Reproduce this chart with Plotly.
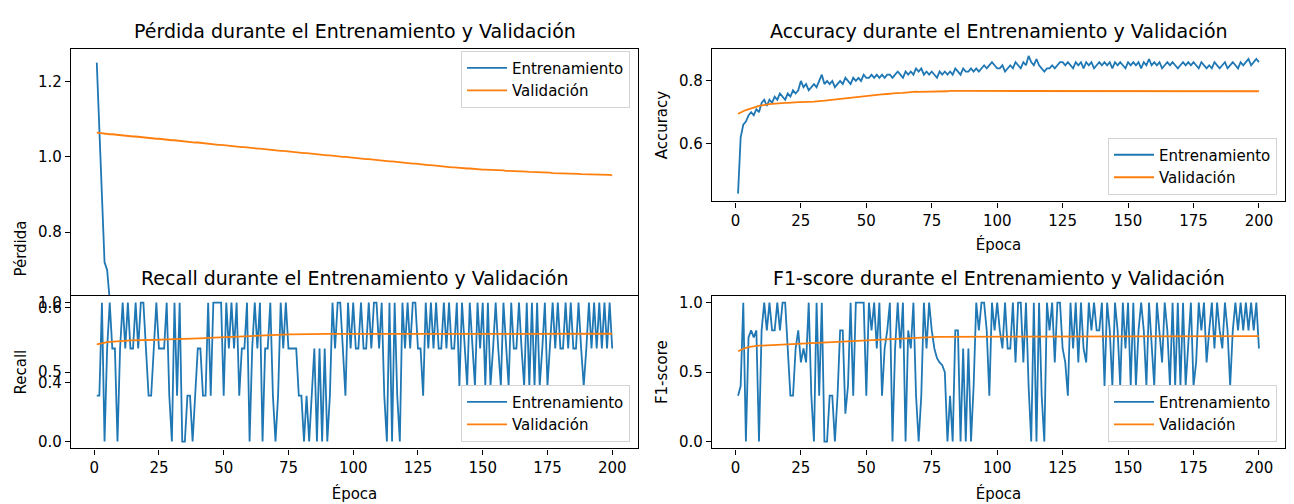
import plotly.graph_objects as go

# ---------------- data ----------------
epochs = list(range(1, 201))

loss_train = [
    1.25, 1.07, 0.90, 0.72, 0.70, 0.62, 0.58, 0.55, 0.53, 0.51,
    0.50, 0.49, 0.48, 0.47, 0.47, 0.46, 0.45, 0.45, 0.44, 0.44,
    0.43, 0.43, 0.42, 0.42, 0.41, 0.41, 0.41, 0.40, 0.40, 0.40,
    0.39, 0.39, 0.39, 0.38, 0.38, 0.38, 0.38, 0.37, 0.37, 0.37,
    0.37, 0.36, 0.36, 0.36, 0.36, 0.36, 0.35, 0.35, 0.35, 0.35,
    0.35, 0.35, 0.34, 0.34, 0.34, 0.34, 0.34, 0.34, 0.33, 0.33,
    0.33, 0.33, 0.33, 0.33, 0.33, 0.33, 0.32, 0.32, 0.32, 0.32,
    0.32, 0.32, 0.32, 0.32, 0.32, 0.31, 0.31, 0.31, 0.31, 0.31,
    0.31, 0.31, 0.31, 0.31, 0.31, 0.31, 0.30, 0.30, 0.30, 0.30,
    0.30, 0.30, 0.30, 0.30, 0.30, 0.30, 0.30, 0.30, 0.30, 0.29,
    0.29, 0.29, 0.29, 0.29, 0.29, 0.29, 0.29, 0.29, 0.29, 0.29,
    0.29, 0.29, 0.29, 0.29, 0.29, 0.29, 0.29, 0.29, 0.29, 0.29,
    0.29, 0.29, 0.29, 0.29, 0.29, 0.28, 0.28, 0.28, 0.28, 0.28,
    0.28, 0.28, 0.28, 0.28, 0.28, 0.28, 0.28, 0.28, 0.28, 0.28,
    0.28, 0.28, 0.28, 0.28, 0.28, 0.28, 0.28, 0.28, 0.28, 0.28,
    0.28, 0.28, 0.28, 0.28, 0.28, 0.28, 0.28, 0.28, 0.28, 0.28,
    0.28, 0.28, 0.28, 0.28, 0.28, 0.28, 0.28, 0.28, 0.28, 0.28,
    0.28, 0.28, 0.28, 0.28, 0.28, 0.28, 0.28, 0.28, 0.28, 0.28,
    0.28, 0.28, 0.28, 0.28, 0.28, 0.28, 0.28, 0.28, 0.28, 0.28,
    0.28, 0.28, 0.28, 0.28, 0.28, 0.28, 0.28, 0.28, 0.28, 0.28,
]

loss_val = [
    1.064, 1.063, 1.062, 1.062, 1.061, 1.060, 1.060, 1.059, 1.058, 1.058,
    1.057, 1.056, 1.056, 1.055, 1.054, 1.054, 1.053, 1.052, 1.052, 1.051,
    1.050, 1.050, 1.049, 1.048, 1.048, 1.047, 1.046, 1.046, 1.045, 1.044,
    1.044, 1.043, 1.042, 1.042, 1.041, 1.040, 1.040, 1.039, 1.038, 1.038,
    1.037, 1.036, 1.036, 1.035, 1.034, 1.034, 1.033, 1.032, 1.032, 1.031,
    1.030, 1.030, 1.029, 1.028, 1.028, 1.027, 1.026, 1.026, 1.025, 1.024,
    1.024, 1.023, 1.022, 1.022, 1.021, 1.020, 1.020, 1.019, 1.018, 1.018,
    1.017, 1.016, 1.016, 1.015, 1.014, 1.014, 1.013, 1.012, 1.012, 1.011,
    1.010, 1.010, 1.009, 1.008, 1.008, 1.007, 1.006, 1.006, 1.005, 1.004,
    1.004, 1.003, 1.002, 1.002, 1.001, 1.000, 1.000, 0.999, 0.998, 0.998,
    0.997, 0.996, 0.996, 0.995, 0.994, 0.994, 0.993, 0.992, 0.992, 0.991,
    0.990, 0.990, 0.989, 0.988, 0.988, 0.987, 0.986, 0.986, 0.985, 0.984,
    0.984, 0.983, 0.982, 0.982, 0.981, 0.980, 0.980, 0.979, 0.978, 0.978,
    0.977, 0.976, 0.976, 0.975, 0.974, 0.974, 0.973, 0.972, 0.972, 0.971,
    0.971, 0.970, 0.970, 0.969, 0.969, 0.968, 0.968, 0.967, 0.967, 0.966,
    0.966, 0.966, 0.965, 0.965, 0.965, 0.964, 0.964, 0.964, 0.963, 0.963,
    0.963, 0.962, 0.962, 0.962, 0.961, 0.961, 0.961, 0.960, 0.960, 0.960,
    0.959, 0.959, 0.959, 0.958, 0.958, 0.958, 0.957, 0.957, 0.957, 0.956,
    0.956, 0.956, 0.956, 0.955, 0.955, 0.955, 0.955, 0.954, 0.954, 0.954,
    0.954, 0.953, 0.953, 0.953, 0.953, 0.952, 0.952, 0.952, 0.952, 0.951,
]

acc_train = [
    0.44, 0.62, 0.66, 0.67, 0.69, 0.70, 0.69, 0.71, 0.70, 0.73,
    0.74, 0.72, 0.74, 0.73, 0.75, 0.74, 0.76, 0.75, 0.74, 0.76,
    0.75, 0.77, 0.76, 0.77, 0.80, 0.78, 0.79, 0.77, 0.78, 0.79,
    0.78, 0.80, 0.82, 0.79, 0.80, 0.79, 0.80, 0.78, 0.79, 0.80,
    0.79, 0.81, 0.80, 0.79, 0.81, 0.80, 0.81, 0.80, 0.82, 0.81,
    0.81, 0.82, 0.81, 0.82, 0.81, 0.82, 0.81, 0.82, 0.82, 0.81,
    0.82, 0.83, 0.82, 0.81, 0.83, 0.82, 0.83, 0.82, 0.84, 0.83,
    0.84, 0.82, 0.83, 0.82, 0.83, 0.82, 0.81, 0.83, 0.82, 0.83,
    0.82, 0.83, 0.82, 0.84, 0.83, 0.82, 0.84, 0.83, 0.83, 0.84,
    0.83, 0.84, 0.83, 0.84, 0.85, 0.84, 0.85, 0.86, 0.85, 0.84,
    0.84, 0.85, 0.83, 0.84, 0.85, 0.84, 0.86, 0.85, 0.84, 0.86,
    0.85, 0.88, 0.86, 0.85, 0.87, 0.85, 0.84, 0.83, 0.84, 0.84,
    0.85, 0.84, 0.85, 0.86, 0.86, 0.85, 0.86, 0.85, 0.84, 0.86,
    0.85, 0.86, 0.84, 0.86, 0.85, 0.86, 0.84, 0.85, 0.86, 0.85,
    0.86, 0.85, 0.86, 0.84, 0.86, 0.85, 0.86, 0.85, 0.84, 0.86,
    0.85, 0.86, 0.85, 0.86, 0.84, 0.86, 0.85, 0.87, 0.85, 0.86,
    0.85, 0.86, 0.84, 0.85, 0.86, 0.85, 0.86, 0.85, 0.84, 0.85,
    0.86, 0.85, 0.86, 0.85, 0.86, 0.85, 0.84, 0.86, 0.85, 0.84,
    0.85, 0.84, 0.86, 0.85, 0.84, 0.85, 0.86, 0.84, 0.85, 0.86,
    0.85, 0.84, 0.86, 0.85, 0.86, 0.87, 0.85, 0.86, 0.87, 0.86,
]

acc_val = [
    0.695, 0.700, 0.703, 0.707, 0.710, 0.713, 0.716, 0.718, 0.720, 0.722,
    0.724, 0.725, 0.726, 0.727, 0.728, 0.729, 0.729, 0.730, 0.730, 0.730,
    0.731, 0.731, 0.731, 0.732, 0.732, 0.732, 0.733, 0.733, 0.734, 0.734,
    0.735, 0.735, 0.736, 0.737, 0.738, 0.739, 0.740, 0.741, 0.741, 0.742,
    0.743, 0.744, 0.745, 0.746, 0.747, 0.748, 0.749, 0.750, 0.751, 0.752,
    0.753, 0.754, 0.754, 0.755, 0.756, 0.757, 0.757, 0.758, 0.759, 0.760,
    0.760, 0.761, 0.762, 0.762, 0.763, 0.764, 0.765, 0.766, 0.766, 0.765,
    0.765, 0.765, 0.766, 0.766, 0.766, 0.767, 0.767, 0.767, 0.767, 0.767,
    0.767, 0.768, 0.767, 0.768, 0.768, 0.767, 0.768, 0.768, 0.768, 0.768,
    0.768, 0.768, 0.768, 0.768, 0.768, 0.768, 0.768, 0.768, 0.768, 0.768,
    0.768, 0.768, 0.768, 0.769, 0.768, 0.768, 0.769, 0.769, 0.768, 0.768,
    0.768, 0.768, 0.768, 0.768, 0.768, 0.768, 0.768, 0.768, 0.768, 0.768,
    0.768, 0.768, 0.768, 0.768, 0.768, 0.768, 0.768, 0.768, 0.768, 0.768,
    0.768, 0.768, 0.768, 0.768, 0.768, 0.768, 0.768, 0.767, 0.767, 0.767,
    0.767, 0.767, 0.767, 0.767, 0.767, 0.767, 0.767, 0.767, 0.767, 0.767,
    0.767, 0.767, 0.767, 0.767, 0.767, 0.767, 0.767, 0.767, 0.767, 0.767,
    0.767, 0.767, 0.767, 0.767, 0.767, 0.767, 0.767, 0.767, 0.767, 0.767,
    0.767, 0.767, 0.767, 0.767, 0.767, 0.767, 0.767, 0.767, 0.767, 0.767,
    0.767, 0.767, 0.767, 0.767, 0.767, 0.767, 0.767, 0.767, 0.767, 0.767,
    0.767, 0.767, 0.767, 0.767, 0.767, 0.767, 0.767, 0.767, 0.767, 0.767,
]

recall_train = [
    0.33, 0.33, 1.00, 0.00, 0.67, 1.00, 0.67, 0.67, 0.00, 0.67,
    1.00, 0.67, 1.00, 0.67, 0.67, 1.00, 0.67, 1.00, 1.00, 0.67,
    0.33, 0.33, 0.67, 1.00, 0.67, 0.67, 0.67, 1.00, 0.33, 0.00,
    1.00, 0.33, 1.00, 0.00, 0.00, 0.33, 0.33, 0.00, 0.33, 0.67,
    0.67, 0.33, 0.33, 1.00, 0.33, 1.00, 1.00, 1.00, 1.00, 0.33,
    1.00, 0.67, 1.00, 0.67, 1.00, 0.33, 0.67, 0.67, 1.00, 0.00,
    0.67, 1.00, 0.67, 1.00, 0.00, 0.67, 0.67, 1.00, 0.33, 0.00,
    0.33, 1.00, 0.67, 1.00, 0.67, 0.67, 0.67, 0.67, 0.33, 0.33,
    0.00, 0.33, 0.00, 0.33, 0.67, 0.00, 0.67, 0.00, 0.67, 0.00,
    0.33, 1.00, 0.67, 1.00, 1.00, 0.67, 0.33, 1.00, 0.67, 1.00,
    0.67, 0.67, 1.00, 0.67, 0.67, 1.00, 0.67, 1.00, 1.00, 0.67,
    1.00, 0.33, 0.00, 1.00, 0.00, 1.00, 0.33, 0.00, 1.00, 0.67,
    1.00, 0.67, 1.00, 1.00, 0.67, 0.67, 0.33, 1.00, 0.67, 1.00,
    0.67, 1.00, 0.67, 0.67, 1.00, 0.67, 1.00, 0.67, 0.67, 1.00,
    0.40, 1.00, 0.67, 0.40, 1.00, 0.67, 0.40, 1.00, 0.67, 1.00,
    0.40, 1.00, 0.40, 0.67, 1.00, 0.67, 0.40, 1.00, 0.67, 0.40,
    1.00, 0.67, 0.67, 1.00, 0.67, 0.40, 1.00, 0.40, 1.00, 0.40,
    1.00, 0.40, 0.67, 1.00, 0.40, 0.67, 1.00, 0.67, 1.00, 0.67,
    0.67, 1.00, 0.67, 1.00, 0.67, 0.67, 1.00, 0.67, 0.40, 0.67,
    1.00, 0.67, 1.00, 0.67, 1.00, 0.67, 1.00, 0.67, 1.00, 0.67,
]

recall_val = [
    0.700, 0.705, 0.710, 0.713, 0.716, 0.718, 0.720, 0.722, 0.723, 0.724,
    0.725, 0.726, 0.727, 0.728, 0.728, 0.729, 0.729, 0.730, 0.730, 0.731,
    0.731, 0.732, 0.732, 0.733, 0.733, 0.734, 0.734, 0.735, 0.736, 0.736,
    0.737, 0.738, 0.738, 0.739, 0.740, 0.740, 0.741, 0.742, 0.742, 0.743,
    0.744, 0.745, 0.745, 0.746, 0.747, 0.748, 0.749, 0.750, 0.751, 0.752,
    0.753, 0.754, 0.755, 0.756, 0.757, 0.758, 0.759, 0.760, 0.761, 0.762,
    0.763, 0.764, 0.765, 0.766, 0.767, 0.768, 0.768, 0.769, 0.770, 0.770,
    0.770, 0.771, 0.771, 0.772, 0.772, 0.772, 0.773, 0.773, 0.773, 0.774,
    0.774, 0.774, 0.774, 0.774, 0.775, 0.775, 0.775, 0.775, 0.775, 0.775,
    0.775, 0.775, 0.775, 0.775, 0.776, 0.776, 0.776, 0.776, 0.776, 0.776,
    0.776, 0.776, 0.776, 0.776, 0.776, 0.776, 0.776, 0.776, 0.776, 0.776,
    0.776, 0.776, 0.776, 0.776, 0.776, 0.776, 0.776, 0.776, 0.776, 0.776,
    0.776, 0.776, 0.776, 0.776, 0.776, 0.776, 0.776, 0.776, 0.776, 0.776,
    0.776, 0.776, 0.776, 0.776, 0.776, 0.776, 0.776, 0.776, 0.776, 0.776,
    0.776, 0.776, 0.776, 0.776, 0.776, 0.776, 0.776, 0.776, 0.776, 0.776,
    0.776, 0.776, 0.776, 0.776, 0.776, 0.776, 0.776, 0.776, 0.776, 0.776,
    0.776, 0.776, 0.776, 0.776, 0.776, 0.776, 0.776, 0.776, 0.776, 0.776,
    0.776, 0.776, 0.776, 0.776, 0.776, 0.776, 0.776, 0.776, 0.776, 0.776,
    0.776, 0.776, 0.776, 0.776, 0.776, 0.776, 0.776, 0.776, 0.776, 0.776,
    0.776, 0.776, 0.776, 0.776, 0.776, 0.776, 0.776, 0.776, 0.776, 0.776,
]

f1_train = [
    0.33, 0.40, 1.00, 0.00, 0.75, 0.80, 0.75, 0.80, 0.00, 0.80,
    1.00, 0.80, 1.00, 0.80, 0.80, 1.00, 0.80, 1.00, 1.00, 0.67,
    0.33, 0.33, 0.67, 0.80, 0.57, 0.67, 0.57, 1.00, 0.33, 0.00,
    1.00, 0.33, 1.00, 0.00, 0.00, 0.33, 0.33, 0.00, 0.33, 0.80,
    0.80, 0.20, 0.40, 1.00, 0.33, 1.00, 1.00, 1.00, 1.00, 0.33,
    1.00, 0.80, 1.00, 0.67, 1.00, 0.33, 0.67, 0.80, 1.00, 0.00,
    0.67, 1.00, 0.67, 1.00, 0.00, 0.80, 0.67, 1.00, 0.33, 0.00,
    0.33, 1.00, 0.67, 1.00, 0.80, 0.67, 0.60, 0.57, 0.55, 0.50,
    0.00, 0.33, 0.00, 0.80, 0.80, 0.00, 0.67, 0.00, 0.67, 0.00,
    0.40, 1.00, 0.80, 1.00, 1.00, 0.80, 0.33, 1.00, 0.80, 1.00,
    0.80, 0.67, 1.00, 0.67, 0.67, 1.00, 0.57, 1.00, 1.00, 0.57,
    1.00, 0.40, 0.00, 1.00, 0.00, 1.00, 0.33, 0.00, 1.00, 0.80,
    1.00, 0.57, 1.00, 1.00, 0.67, 0.57, 0.33, 1.00, 0.67, 1.00,
    0.57, 1.00, 0.67, 0.57, 1.00, 0.80, 1.00, 0.80, 0.80, 1.00,
    0.40, 1.00, 0.80, 0.40, 1.00, 0.80, 0.40, 1.00, 0.67, 1.00,
    0.40, 1.00, 0.40, 0.80, 1.00, 0.80, 0.40, 1.00, 0.67, 0.40,
    1.00, 0.80, 0.57, 1.00, 0.80, 0.40, 1.00, 0.40, 1.00, 0.40,
    1.00, 0.40, 0.67, 1.00, 0.40, 0.57, 1.00, 0.80, 1.00, 0.57,
    0.80, 1.00, 0.67, 1.00, 0.80, 0.67, 1.00, 0.80, 0.40, 0.80,
    1.00, 0.80, 1.00, 0.80, 1.00, 0.80, 1.00, 0.80, 1.00, 0.67,
]

f1_val = [
    0.650, 0.660, 0.668, 0.675, 0.680, 0.684, 0.687, 0.689, 0.690, 0.691,
    0.692, 0.693, 0.694, 0.695, 0.696, 0.697, 0.698, 0.699, 0.700, 0.700,
    0.701, 0.701, 0.702, 0.702, 0.703, 0.703, 0.704, 0.705, 0.706, 0.707,
    0.708, 0.709, 0.710, 0.711, 0.712, 0.713, 0.714, 0.715, 0.716, 0.717,
    0.718, 0.720, 0.721, 0.722, 0.724, 0.725, 0.726, 0.727, 0.728, 0.729,
    0.730, 0.731, 0.733, 0.734, 0.735, 0.736, 0.737, 0.738, 0.739, 0.740,
    0.741, 0.742, 0.743, 0.744, 0.745, 0.746, 0.748, 0.749, 0.750, 0.751,
    0.751, 0.752, 0.752, 0.753, 0.753, 0.753, 0.754, 0.754, 0.754, 0.755,
    0.755, 0.755, 0.755, 0.755, 0.756, 0.756, 0.756, 0.756, 0.756, 0.756,
    0.756, 0.756, 0.757, 0.757, 0.757, 0.757, 0.757, 0.757, 0.757, 0.757,
    0.757, 0.757, 0.757, 0.757, 0.757, 0.757, 0.757, 0.758, 0.758, 0.758,
    0.758, 0.758, 0.758, 0.758, 0.758, 0.758, 0.758, 0.758, 0.758, 0.758,
    0.758, 0.758, 0.758, 0.758, 0.758, 0.758, 0.758, 0.758, 0.758, 0.758,
    0.758, 0.758, 0.758, 0.758, 0.758, 0.758, 0.758, 0.758, 0.758, 0.758,
    0.758, 0.758, 0.758, 0.758, 0.758, 0.758, 0.758, 0.758, 0.758, 0.758,
    0.758, 0.758, 0.758, 0.758, 0.758, 0.758, 0.758, 0.758, 0.758, 0.758,
    0.758, 0.758, 0.758, 0.758, 0.758, 0.758, 0.758, 0.758, 0.758, 0.758,
    0.759, 0.759, 0.759, 0.759, 0.759, 0.759, 0.759, 0.759, 0.759, 0.759,
    0.759, 0.759, 0.759, 0.759, 0.759, 0.759, 0.759, 0.759, 0.759, 0.759,
    0.759, 0.759, 0.759, 0.759, 0.759, 0.759, 0.759, 0.759, 0.759, 0.759,
]

x_ticks = [0, 25, 50, 75, 100, 125, 150, 175, 200]
loss_ticks = [0.4, 0.6, 0.8, 1.0, 1.2]
acc_ticks = [0.6, 0.8]
score_ticks = [0.0, 0.5, 1.0]

titles = [
    "Pérdida durante el Entrenamiento y Validación",
    "Accuracy durante el Entrenamiento y Validación",
    "Recall durante el Entrenamiento y Validación",
    "F1-score durante el Entrenamiento y Validación",
]
y_labels = ["Pérdida", "Accuracy", "Recall", "F1-score"]
x_label = "Época"
series_names = ["Entrenamiento", "Validación"]

# ---------------- styling / layout ----------------
W, H = 1294, 504
OFF = 8  # default page margin of the html body
BLUE, ORANGE = "#1f77b4", "#ff7f0e"
FONT = "DejaVu Sans"
TICK_FS, LABEL_FS, TITLE_FS, LEG_FS = 15, 15, 19, 15


def fx(p):
    return (p - OFF) / W


def fy(p):
    return 1 - (p - OFF) / H


LEFT_X = (71, 638)
RIGHT_X = (712, 1285)

fig = go.Figure()

panels = [
    ("", loss_train, loss_val, "legend"),
    ("2", acc_train, acc_val, "legend2"),
    ("3", recall_train, recall_val, "legend3"),
    ("4", f1_train, f1_val, "legend4"),
]
for suf, tr, va, leg in panels:
    for vals, name, col in ((tr, series_names[0], BLUE), (va, series_names[1], ORANGE)):
        fig.add_trace(go.Scatter(
            x=epochs, y=vals, mode="lines", name=name,
            line=dict(color=col, width=1.8),
            xaxis="x" + suf, yaxis="y" + suf, legend=leg,
            hoverinfo="skip",
        ))

axis_common = dict(
    showline=True, mirror=True, linecolor="#000000", linewidth=1.2,
    ticks="outside", ticklen=5, tickwidth=1.2, tickcolor="#000000",
    showgrid=False, zeroline=False,
    tickfont=dict(family=FONT, size=TICK_FS, color="#000000"),
)
xcommon = dict(axis_common, range=[-8.95, 209.95], tickvals=x_ticks)


def title_obj(text, standoff):
    return dict(text=text, font=dict(family=FONT, size=LABEL_FS, color="#000000"),
                standoff=standoff)


layout = dict(
    width=W, height=H,
    margin=dict(l=0, r=0, t=0, b=0),
    paper_bgcolor="white", plot_bgcolor="white",
    font=dict(family=FONT, color="#000000"),
    xaxis=dict(xcommon, domain=[fx(LEFT_X[0]), fx(LEFT_X[1])], anchor="y",
               showticklabels=False),
    yaxis=dict(axis_common, domain=[fy(450), fy(47)], anchor="x",
               range=[0.226, 1.287], tickvals=loss_ticks, tickformat=".1f",
               title=title_obj(y_labels[0], 7)),
    xaxis2=dict(xcommon, domain=[fx(RIGHT_X[0]), fx(RIGHT_X[1])], anchor="y2",
                title=title_obj(x_label, 10)),
    yaxis2=dict(axis_common, domain=[fy(201), fy(47)], anchor="x2",
                range=[0.415, 0.903], tickvals=acc_ticks, tickformat=".1f",
                title=title_obj(y_labels[1], 7)),
    xaxis3=dict(xcommon, domain=[fx(LEFT_X[0]), fx(LEFT_X[1])], anchor="y3",
                title=title_obj(x_label, 12)),
    yaxis3=dict(axis_common, domain=[fy(450), fy(296)], anchor="x3",
                range=[-0.05, 1.05], tickvals=score_ticks, tickformat=".1f",
                title=title_obj(y_labels[2], 7)),
    xaxis4=dict(xcommon, domain=[fx(RIGHT_X[0]), fx(RIGHT_X[1])], anchor="y4",
                title=title_obj(x_label, 12)),
    yaxis4=dict(axis_common, domain=[fy(450), fy(296)], anchor="x4",
                range=[-0.05, 1.05], tickvals=score_ticks, tickformat=".1f",
                title=title_obj(y_labels[3], 7)),
)

leg_common = dict(
    bgcolor="rgba(255,255,255,0.8)", bordercolor="#d4d4d4", borderwidth=1,
    font=dict(family=FONT, size=LEG_FS, color="#000000"),
    xanchor="right", itemwidth=40, tracegroupgap=0,
)
layout["legend"] = dict(leg_common, x=fx(630), y=fy(49), yanchor="top")
layout["legend2"] = dict(leg_common, x=fx(1277), y=fy(194), yanchor="bottom")
layout["legend3"] = dict(leg_common, x=fx(630), y=fy(443), yanchor="bottom")
layout["legend4"] = dict(leg_common, x=fx(1277), y=fy(443), yanchor="bottom")

fig.update_layout(**layout)

# panel titles
title_pos = [
    ((LEFT_X[0] + LEFT_X[1]) / 2, 42),
    ((RIGHT_X[0] + RIGHT_X[1]) / 2, 42),
    ((LEFT_X[0] + LEFT_X[1]) / 2, 291),
    ((RIGHT_X[0] + RIGHT_X[1]) / 2, 291),
]
for text, (cx, by) in zip(titles, title_pos):
    fig.add_annotation(
        text=text, xref="paper", yref="paper", x=fx(cx), y=fy(by),
        xanchor="center", yanchor="bottom", showarrow=False,
        font=dict(family=FONT, size=TITLE_FS, color="#000000"),
    )

fig.write_html("out.html")
